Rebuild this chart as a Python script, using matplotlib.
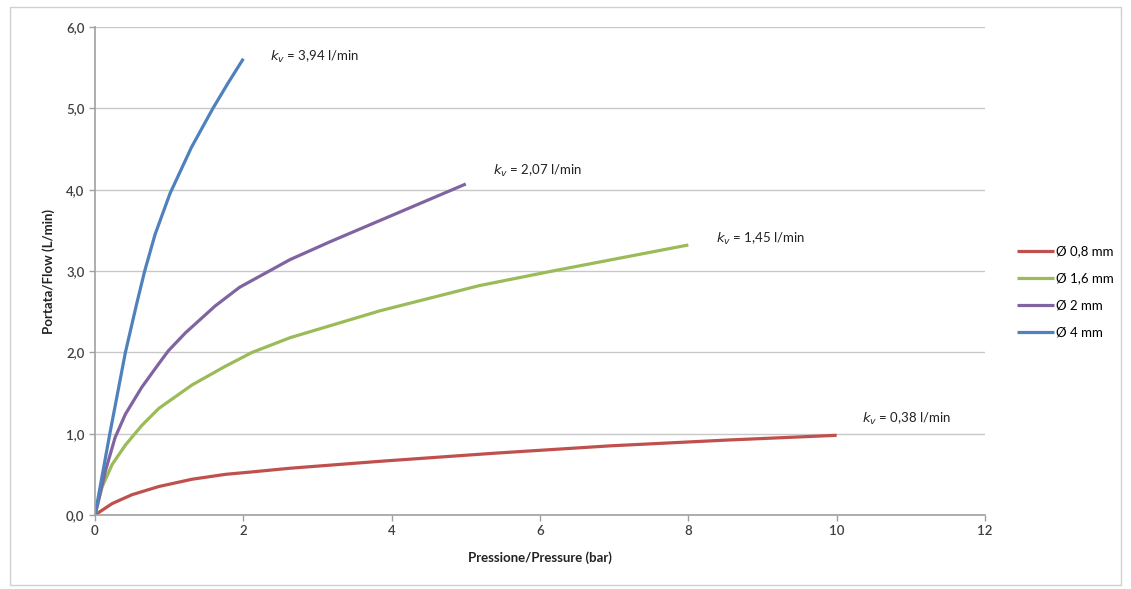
import numpy as np
import matplotlib
matplotlib.use('Agg')
import matplotlib.pyplot as plt
from matplotlib.patches import Rectangle

plt.rcParams['font.family'] = ['Lato', 'DejaVu Sans']

# values (pressure in bar, flow in L/min)
p_08 = [0, 0.23, 0.5, 0.86, 1.31, 1.76, 2.12, 2.63, 3.84, 5.39, 6.94, 8.49, 10.0]
q_08 = [0, 0.14, 0.25, 0.35, 0.44, 0.50, 0.53, 0.575, 0.66, 0.76, 0.85, 0.92, 0.98]

p_16 = [0, 0.094, 0.23, 0.41, 0.63, 0.86, 1.31, 1.76, 2.12, 2.63, 3.84, 5.18, 6.17, 8.0]
q_16 = [0, 0.34, 0.62, 0.86, 1.10, 1.31, 1.60, 1.83, 2.0, 2.18, 2.51, 2.82, 3.0, 3.32]

p_2 = [0, 0.14, 0.27, 0.41, 0.63, 0.86, 0.99, 1.22, 1.62, 1.95, 2.63, 3.17, 3.84, 4.51, 5.0]
q_2 = [0, 0.54, 0.95, 1.24, 1.57, 1.86, 2.02, 2.24, 2.57, 2.80, 3.14, 3.36, 3.62, 3.88, 4.07]

p_4 = [0, 0.2, 0.41, 0.56, 0.67, 0.81, 1.01, 1.30, 1.59, 1.80, 2.0]
q_4 = [0, 1.0, 2.0, 2.59, 3.0, 3.45, 3.95, 4.52, 5.0, 5.32, 5.61]

series_names = ['Ø 0,8 mm', 'Ø 1,6 mm', 'Ø 2 mm', 'Ø 4 mm']
kv_labels = ['0,38', '1,45', '2,07', '3,94']
colors = ['#c0504d', '#9bbb59', '#8064a2', '#4f81bd']

x_ticks = [0, 2, 4, 6, 8, 10, 12]
y_ticks = [0, 1, 2, 3, 4, 5, 6]


def main():
    fig = plt.figure(figsize=(11.31, 5.89), dpi=100)
    fig.patches.append(Rectangle((10 / 1131, 4 / 589), 1111 / 1131, 578 / 589,
                                 transform=fig.transFigure, fill=False,
                                 edgecolor='#d0d0d0', linewidth=1))
    ax = fig.add_axes([95 / 1131, 74 / 589, 890 / 1131, 488 / 589])

    data = [(p_08, q_08), (p_16, q_16), (p_2, q_2), (p_4, q_4)]
    for (p, q), name, col in zip(data, series_names, colors):
        ax.plot(p, q, color=col, linewidth=2.3, label=name,
                solid_capstyle='butt', solid_joinstyle='round')

    # kv annotations placed just right of each curve end
    label_pos = [(10.34, 1.18), (8.37, 3.39), (5.36, 4.23), (2.36, 5.63)]
    for (x, y), kv in zip(label_pos, kv_labels):
        ax.text(x, y, r'$\mathit{k}_{v}$' + ' = ' + kv + ' l/min',
                fontsize=9.5, color='#222222', va='center', ha='left')

    ax.set_xlim(0, 12)
    ax.set_ylim(0, 6)
    ax.set_xticks(x_ticks)
    ax.set_yticks(y_ticks)
    ax.set_yticklabels([f'{v:.1f}'.replace('.', ',') for v in y_ticks])
    ax.set_xticklabels([str(v) for v in x_ticks])
    ax.tick_params(axis='both', colors='#a0a0a0', labelcolor='#404040',
                   labelsize=9.5, length=4, width=1)
    for lab in ax.get_xticklabels() + ax.get_yticklabels():
        lab.set_fontweight('semibold')
    ax.yaxis.grid(True, color='#c8c8c8', linewidth=1)
    ax.set_axisbelow(True)
    for s in ['top', 'right']:
        ax.spines[s].set_visible(False)
    for s in ['left', 'bottom']:
        ax.spines[s].set_color('#a0a0a0')
        ax.spines[s].set_linewidth(1.2)

    ax.set_xlabel('Pressione/Pressure (bar)', fontsize=9.5, fontweight='bold',
                  color='#222222', labelpad=10)
    ax.set_ylabel('Portata/Flow (L/min)', fontsize=9.5, fontweight='bold',
                  color='#222222', labelpad=8)

    fig.legend(loc='upper left', bbox_to_anchor=(1012 / 1131, 1 - 240 / 589),
               frameon=False, fontsize=9.5, handlelength=2.8, handletextpad=0.1,
               labelspacing=1.15, borderaxespad=0)

    fig.savefig('out.png', dpi=100)


if __name__ == '__main__':
    main()
